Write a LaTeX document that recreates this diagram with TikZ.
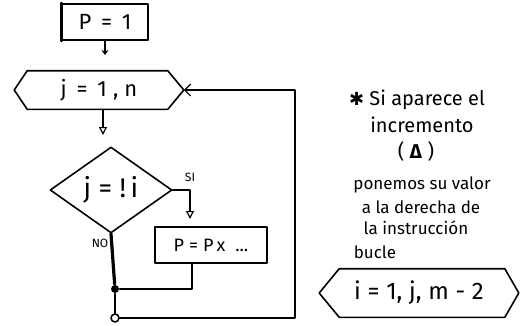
\documentclass[tikz,border=0pt]{standalone}
\usepackage{fontspec}
\setmainfont{Fira Sans}
\newfontfamily\symfont{DejaVu Sans}
\usetikzlibrary{shapes.geometric,arrows.meta}
\newcommand\hexdraw[3]{\draw (#1.west) -- ([xshift=#2]#1.north west) -- ([xshift=-#3]#1.north east) -- (#1.east) -- ([xshift=-#3]#1.south east) -- ([xshift=#2]#1.south west) -- cycle;}
\tikzset{
  fs/.style={font=\fontsize{#1}{#1}\selectfont},
  boxnode/.style={draw, rectangle, inner sep=0pt},
  hexnode/.style={rectangle, inner sep=0pt},
  tri/.style={-{Triangle[open,length=8pt,width=8pt,line width=1.2pt]}},
  smallarr/.style={-{Stealth[length=5pt,width=7pt]}},
  barb/.style={-{Straight Barb[length=6pt,width=12pt,line width=1.2pt]}},
  dot/.style={circle, fill, inner sep=0pt, minimum size=8pt},
  odot/.style={circle, draw, fill=white, inner sep=0pt, minimum size=8pt},
  lbl/.style={inner sep=0pt},
}
\begin{document}
\begin{tikzpicture}[x=1pt,y=-1pt,line width=1.6pt,line join=round,line cap=round]
\useasboundingbox (0,0) rectangle (528,325);
% start box
\node[boxnode, minimum width=86pt, minimum height=36pt, fs=22] (p1) at (105,22) {P\;\,=\;\,1};
\draw[line width=3pt] (p1.north west) -- (p1.south west);
\coordinate (a1) at (105,55);
\draw[smallarr] (p1.south) -- (a1);
% loop hexagon
\node[hexnode, minimum width=168pt, minimum height=37pt, fs=22] (h1) at (99,90) {j\;\,=\;\,1\;,\;n};
\hexdraw{h1}{13pt}{16pt}
\coordinate (a2) at (103,135);
\draw[tri] (h1.south -| a2) -- (a2);
% decision
\node[draw, diamond, minimum width=122pt, minimum height=86pt, inner sep=0pt, fs=27] (d) at (111,190) {j\;=\;!\,i};
\coordinate (si) at (190,219);
\draw[tri] (d.east) -| (si);
\node[lbl, fs=12] (lsi) at (190,177) {SI};
\node[lbl, fs=12] (lno) at (100,243) {NO};
% process
\node[boxnode, minimum width=112pt, minimum height=36pt, fs=18] (pp) at (211,245) {P\;=\;P\,x\;\;...};
\node[dot] (j1) at (115,289) {};
\node[odot] (j2) at (115,318) {};
\draw[line width=3.2pt] (d.south) -- (j1);
\draw ([xshift=-19pt]pp.south) |- (j1);
\draw (j1) -- (j2);
\coordinate (r2) at (295,90);
\draw[barb] (j2) -| (r2) -- (h1.east);
% notes
\node[lbl, fs=20] (t1) at (417,100) {{\symfont\fontsize{18}{18}\selectfont ✱} Si aparece el};
\node[lbl, fs=20] (t2) at (422,125) {incremento};
\node[lbl, fs=20] (t3) at (416,151) {(\;\textbf{Δ}\;)};
\node[lbl, fs=17] (t4) at (422,185) {ponemos su valor};
\node[lbl, fs=17] (t5) at (421,207) {a la derecha de};
\node[lbl, fs=17] (t6) at (416,228) {la instrucción};
\node[lbl, fs=17, anchor=west] (t7) at (353,252) {bucle};
\node[hexnode, minimum width=198pt, minimum height=47pt, fs=24] (h2) at (419,293) {i\;=\;1,\;j,\;m\;-\;2};
\hexdraw{h2}{20pt}{14pt}
\end{tikzpicture}
\end{document}
